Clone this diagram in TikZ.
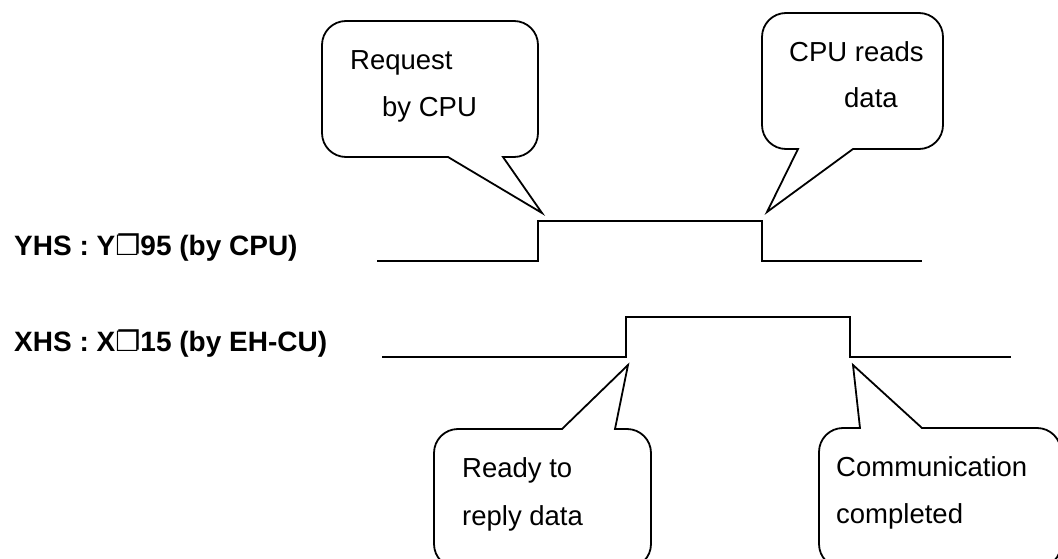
\documentclass[tikz,border=0pt]{standalone}
\usepackage{fontspec}
\setmainfont{Liberation Sans}
\newfontfamily\dingfont{DejaVu Sans}

\tikzset{
  bubble/.style={draw, line width=1.8pt, rounded corners=24pt},
  wave/.style={draw, line width=1.8pt, line join=miter},
  note/.style={anchor=base west, inner sep=0pt, font=\fontsize{27.5}{33}\selectfont},
  siglabel/.style={anchor=base west, inner sep=0pt, font=\bfseries\fontsize{28}{33}\selectfont},
}

\begin{document}
\begin{tikzpicture}[x=1pt, y=-1pt]
  \fill[white] (0,0) rectangle (1058,559);
  \useasboundingbox (0,0) rectangle (1058,559);
  \clip (0,0) rectangle (1058,559);

  % signal names
  \node[siglabel] (yhs) at (14,255) {YHS : Y{\dingfont ❐}95 (by CPU)};
  \node[siglabel] (xhs) at (14,351) {XHS : X{\dingfont ❐}15 (by EH-CU)};

  % handshake waveforms
  \draw[wave] (377,261) -- (538,261) -- (538,221) -- (762,221) -- (762,261) -- (922,261);
  \draw[wave] (382,357) -- (626,357) -- (626,317) -- (850,317) -- (850,357) -- (1011,357);

  % callout: request by CPU
  \draw[bubble] (448,157) -- (322,157) -- (322,21) -- (538,21) -- (538,157)
        [sharp corners] -- (503,157) -- (542,213) -- cycle;
  \node[note] (req1) at (350,70) {Request};
  \node[note] (req2) at (382,117) {by CPU};

  % callout: CPU reads data
  \draw[bubble] (798,149) -- (762,149) -- (762,13) -- (943,13) -- (943,149)
        [sharp corners] -- (853,149) -- (767,212) -- cycle;
  \node[note] (rd1) at (789,62) {CPU reads};
  \node[note] (rd2) at (844,108) {data};

  % callout: ready to reply data
  \draw[bubble] (562,429) -- (434,429) -- (434,568) -- (651,568) -- (651,429)
        [sharp corners] -- (615,429) -- (628,365) -- cycle;
  \node[note] (rdy1) at (462,477) {Ready to};
  \node[note] (rdy2) at (462,525) {reply data};

  % callout: communication completed (runs past the right edge)
  \draw[bubble] (922,428) -- (1061,428) -- (1061,568) -- (819,568) -- (819,428)
        [sharp corners] -- (860,428) -- (853,365) -- cycle;
  \node[note] (cc1) at (836,476) {Communication};
  \node[note] (cc2) at (836,523) {completed};
\end{tikzpicture}
\end{document}
